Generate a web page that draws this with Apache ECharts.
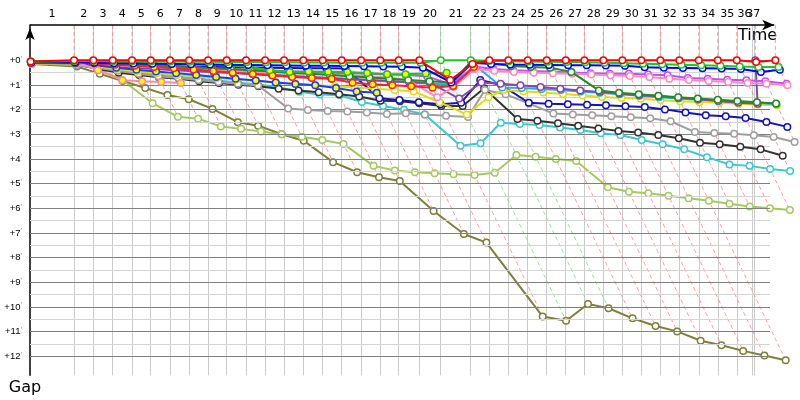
<!DOCTYPE html>
<html><head><meta charset="utf-8">
<script src="https://cdn.jsdelivr.net/npm/echarts@6/dist/echarts.min.js"></script>
<style>html,body{margin:0;padding:0;background:#fff}#c{width:800px;height:400px}</style>
</head><body><div id="c"></div>
<script>
// Leader crossing time (minutes) at end of each lap, lap 0..37
const leaderTimes = [0, 3.71, 5.33, 6.97, 8.59, 10.17, 11.79, 13.40, 15.00, 16.57, 18.20, 19.80, 21.40, 23.02, 24.66, 26.26, 27.89, 29.51, 31.06, 32.80, 34.60, 37.13, 38.69, 40.30, 41.93, 43.53, 45.13, 46.70, 48.30, 49.90, 51.50, 53.10, 54.70, 56.34, 57.94, 59.54, 61.10, 62.79];
// Vertical lap grid lines (minutes), laps 1..37
const lapLines = [3.71, 5.33, 6.97, 8.59, 10.17, 11.79, 13.40, 15.00, 16.57, 18.20, 19.80, 21.40, 23.02, 24.66, 26.26, 27.89, 29.51, 31.06, 32.80, 34.60, 37.13, 38.69, 40.30, 41.93, 43.53, 45.13, 46.70, 48.30, 49.90, 51.50, 53.10, 54.70, 56.34, 57.94, 59.54, 60.85, 61.02];
const lapLabels = ['1','2','3','4','5','6','7','8','9','10','11','12','13','14','15','16','17','18','19','20','21','22','23','24','25','26','27','28','29','30','31','32','33','34','35','36','37'];
const gapTicks = [0,1,2,3,4,5,6,7,8,9,10,11,12];
const gapLines = [0,0.5,1,1.5,2,2.5,3,3.5,4,4.5,5,5.5,6,6.5,7,7.5,8,8.5,9,9.5,10,10.5,11,11.5,12];
const greenLaps = [20, 21, 22];
const violetLaps = [36];

// Gap to leader (minutes) per car, lap 0..n
const olive = [0.15,0.25,0.55,0.84,1.12,1.41,1.58,1.97,2.51,2.65,3.0,3.26,4.13,4.54,4.74,4.89,6.11,7.04,7.39,10.39,10.56,9.88,10.05,10.46,10.77,10.99,11.37,11.55,11.78,11.97,12.16];
const lightGreen = [0.1,0.12,0.3,0.8,1.74,2.29,2.37,2.68,2.78,2.89,3.0,3.1,3.23,3.39,4.28,4.47,4.54,4.58,4.62,4.65,4.56,3.84,3.91,4.0,4.08,5.15,5.33,5.39,5.49,5.59,5.69,5.82,5.93,6.0,6.07];
const cyan = [0.1,0.2,0.3,0.42,0.5,0.58,0.66,0.74,0.82,0.9,0.98,1.08,1.28,1.39,1.42,1.69,1.85,2.0,2.2,3.46,3.36,2.53,2.58,2.62,2.72,2.83,2.96,3.03,3.23,3.4,3.61,3.93,4.22,4.28,4.41,4.49];
const black = [0.1,0.15,0.35,0.5,0.6,0.69,0.75,0.85,0.92,0.99,1.05,1.15,1.22,1.3,1.38,1.47,1.64,1.66,1.74,1.85,1.85,1.13,2.38,2.45,2.55,2.65,2.76,2.87,2.93,3.03,3.16,3.34,3.4,3.5,3.61,3.87];
const grey = [0.12,0.2,0.3,0.42,0.55,0.65,0.72,0.8,0.88,0.95,1.02,1.95,2.01,2.06,2.08,2.12,2.18,2.15,2.2,2.25,2.3,1.2,1.38,1.75,2.16,2.2,2.23,2.27,2.31,2.35,2.47,2.91,2.95,2.98,3.04,3.11,3.31];
const navy = [0.1,0.1,0.14,0.17,0.2,0.22,0.24,0.26,0.27,0.28,0.29,0.3,0.31,0.32,0.32,0.33,1.54,1.61,1.7,1.78,1.72,0.8,1.0,1.72,1.76,1.78,1.8,1.82,1.86,1.89,1.99,2.12,2.23,2.27,2.34,2.5,2.7];
const yellow = [0.15,0.15,0.25,0.35,0.45,0.52,0.6,0.66,0.72,0.78,0.84,0.9,0.95,1.0,1.05,1.1,1.15,1.2,1.26,1.7,2.2,1.5,1.2,1.26,1.31,1.37,1.43,1.49,1.53,1.56,1.62,1.66,1.69,1.72,1.76,1.8,1.82];
const sky = [0.1,0.1,0.16,0.22,0.27,0.32,0.36,0.4,0.45,0.5,0.55,0.6,0.65,0.7,0.75,0.78,0.82,0.86,0.9,0.95,0.98,0.1,1.1,1.12,1.16,1.2,1.26,1.32,1.38,1.44,1.5,1.55,1.6,1.64,1.68,1.72,1.78];
const purple = [0.12,0.12,0.18,0.24,0.3,0.35,0.4,0.44,0.48,0.52,0.56,0.6,0.64,0.68,0.72,0.76,0.8,0.84,0.88,0.92,1.55,0.9,0.95,1.01,1.08,1.15,1.22,1.28,1.35,1.42,1.45,1.52,1.58,1.65,1.72,1.76,0];
const violet = [0.1,0.08,0.12,0.16,0.2,0.23,0.26,0.29,0.32,0.35,0.38,0.41,0.44,0.47,0.5,0.52,0.55,0.58,0.6,0.65,1.0,0.25,0.35,0.4,0.43,0.46,0.49,0.52,0.55,0.55,0.58,0.61,0.72,0.75,0.79,0.81,0.85,0.95];
const pink = [0.12,0.1,0.15,0.2,0.25,0.28,0.32,0.35,0.38,0.42,0.45,0.48,0.52,0.55,0.58,0.62,0.65,0.7,0.8,1.5,1.08,0.35,0.42,0.47,0.5,0.52,0.55,0.58,0.61,0.64,0.68,0.75,0.8,0.84,0.88,0.92,0.95,1.01];
const darkGreen = [0.08,0.05,0.08,0.12,0.16,0.2,0.24,0.28,0.32,0.36,0.4,0.45,0.5,0.55,0.6,0.65,0.7,0.75,0.8,0.85,0.9,0.05,0.12,0.23,0.27,0.3,0.47,1.22,1.32,1.38,1.44,1.5,1.55,1.6,1.65,1.7,1.75];
const blueYellow = [0.1,0.12,0.2,0.3,0.38,0.45,0.52,0.6,0.68,0.75,0.82,0.9,0.96,1.01,1.12,1.26,1.32];
const redYellow = [0.1,0.1,0.14,0.18,0.22,0.27,0.32,0.37,0.43,0.5,0.56,0.62,0.68,0.72,0.75,0.91,0.97,1.01,1.05,1.11,1.04,0.27];
const pinkYellow = [0.12,0.05,0.4,0.81,0.85,0.88,0.92];
const greenYellow = [0.05,0.04,0.06,0.08,0.1,0.12,0.14,0.16,0.18,0.2,0.27,0.4,0.47,0.45,0.46,0.47,0.51,0.57,0.57,0.54,0.5];
const blue = [0.1,0.08,0.1,0.12,0.13,0.14,0.15,0.16,0.17,0.18,0.19,0.2,0.21,0.22,0.22,0.23,0.24,0.25,0.26,0.3,0.9,0.1,0.15,0.17,0.18,0.19,0.2,0.2,0.21,0.22,0.28,0.3,0.31,0.32,0.33,0.35,0.47,0.38];
const green = [0.06,0.03,0.03,0.04,0.04,0.05,0.05,0.06,0.06,0.07,0.07,0.08,0.08,0.09,0.09,0.1,0.1,0.1,0.1,0.1,0,0,0.02,0.04,0.05,0.06,0.07,0.08,0.1,0.12,0.14,0.16,0.18,0.2,0.22,0.25,0.27,0.27];
const red = [0.05,0,0,0,0,0,0,0,0,0,0,0,0,0,0,0,0,0,0,0,0.8,0.15,0,0,0,0,0,0,0,0,0,0,0,0,0,0,0.07,0];

const cars = [
  {d: olive, c: '#7f7f3c', f: '#ffffff'},
  {d: lightGreen, c: '#a6c862', f: '#ffffff'},
  {d: cyan, c: '#3cc8cc', f: '#ffffff'},
  {d: black, c: '#333333', f: '#ffffff'},
  {d: grey, c: '#9e9e9e', f: '#ffffff'},
  {d: navy, c: '#1414b4', f: '#ffffff'},
  {d: yellow, c: '#e0dc10', f: '#ffffff'},
  {d: sky, c: '#28a8f0', f: '#ffffff'},
  {d: purple, c: '#8c44a4', f: '#ffffff'},
  {d: violet, c: '#c050f0', f: '#ffffff'},
  {d: pink, c: '#ff88c4', f: '#ffffff'},
  {d: darkGreen, c: '#228c22', f: '#ffffff'},
  {d: blueYellow, c: '#1e3cf0', f: '#ffff00'},
  {d: redYellow, c: '#ff2020', f: '#ffff00'},
  {d: pinkYellow, c: '#ff88a8', f: '#ffff00'},
  {d: greenYellow, c: '#22c022', f: '#ffff00'},
  {d: blue, c: '#0000ff', f: '#ffffff'},
  {d: green, c: '#1ec81e', f: '#ffffff'},
  {d: red, c: '#ff0000', f: '#ffffff'}
];

const yMin = -1.431, yMax = 12.77;
const xMax = 64.8;          // right edge of plotting area (minutes)
const gridLineEnd = 62.34;  // horizontal grid lines end
const timeAxisEnd = 62.7;   // time axis arrow
const labelPos = lapLines.map((t, i) => ((i === 0 ? 0 : lapLines[i - 1]) + t) / 2);
const lastIdx = labelPos.length - 1;

const series = [];
// helper series: horizontal grid lines
series.push({
  type: 'line', data: [], silent: true, z: 0,
  markLine: {
    silent: true, symbol: 'none', animation: false, label: {show: false},
    data: gapLines.map((v, i) => [
      {coord: [0, v], lineStyle: {color: i % 2 ? '#d4d4d4' : '#808080', width: 1, type: 'solid'}},
      {coord: [gridLineEnd, v]}
    ])
  }
});
// dashed lap lines: vertical down to gap 0, then diagonal to slowest car of that lap
for (let n = 1; n < leaderTimes.length; n++) {
  let G = 0;
  cars.forEach(car => { if (car.d[n] != null && car.d[n] > G) G = car.d[n]; });
  const L = leaderTimes[n];
  let col = 'rgba(255,115,115,0.7)';
  if (greenLaps.includes(n)) col = 'rgba(110,215,110,0.7)';
  if (violetLaps.includes(n)) col = 'rgba(185,140,225,0.8)';
  series.push({
    type: 'line', silent: true, symbol: 'none', z: 1,
    data: [[L, yMin], [L, 0], [L + G, G]],
    lineStyle: {color: col, width: 1, type: [4, 3]}
  });
}
cars.forEach((car, k) => {
  series.push({
    type: 'line', z: 3 + k,
    data: car.d.map((g, i) => [leaderTimes[i] + g, g]),
    symbol: 'circle', symbolSize: 6.5, showAllSymbol: true,
    lineStyle: {color: car.c, width: 2},
    itemStyle: {color: car.f, borderColor: car.c, borderWidth: 1.5}
  });
});
// time axis line with arrow
series.push({
  type: 'line', data: [], silent: true, z: 30,
  markLine: {
    silent: true, animation: false, label: {show: false},
    symbol: ['none', 'arrow'], symbolSize: [8, 12],
    data: [[{coord: [0, yMin], lineStyle: {color: '#000', width: 1.5, type: 'solid'}}, {coord: [timeAxisEnd, yMin]}]]
  }
});

const lapLabelFmt = v => { const i = labelPos.findIndex(p => Math.abs(p - v) < 1e-6); return i >= 0 ? lapLabels[i] : ''; };

const chart = echarts.init(document.getElementById('c'));
chart.setOption({
  animation: false,
  backgroundColor: '#fff',
  grid: {left: 30, top: 25, width: 769.2, height: 350.3},
  xAxis: [{
    type: 'value', position: 'top', min: 0, max: xMax,
    axisLine: {show: false, onZero: false},
    axisTick: {show: false, customValues: lapLines},
    axisLabel: {
      customValues: labelPos.slice(0, lastIdx), color: '#000', fontSize: 11, fontFamily: 'DejaVu Sans', margin: 5, hideOverlap: false,
      formatter: lapLabelFmt
    },
    splitLine: {show: true, lineStyle: {color: '#cccccc', width: 1}},
    name: 'Time', nameLocation: 'end', nameGap: -22,
    nameTextStyle: {color: '#000', fontSize: 16, fontFamily: 'DejaVu Sans', align: 'right', verticalAlign: 'top', padding: [3, 0, 0, 0]}
  }, {
    type: 'value', position: 'top', min: 0, max: xMax, gridIndex: 0,
    axisLine: {show: false, onZero: false},
    axisTick: {show: false},
    splitLine: {show: false},
    axisLabel: {
      customValues: [labelPos[lastIdx]], color: '#000', fontSize: 11, fontFamily: 'DejaVu Sans', margin: 5,
      formatter: lapLabelFmt
    }
  }],
  yAxis: {
    type: 'value', inverse: true, min: yMin, max: yMax,
    axisLine: {onZero: false, lineStyle: {color: '#000', width: 1.5}, symbol: ['none', 'arrow'], symbolSize: [7, 12], symbolOffset: [0, -3]},
    axisTick: {show: false},
    axisLabel: {
      customValues: gapTicks, margin: 8, fontSize: 9.5, fontFamily: 'Liberation Sans', color: '#000',
      formatter: v => '+' + v + '{p|\'}',
      rich: {p: {fontSize: 8, color: '#d08010', padding: [0, 0, 4, 0]}}
    },
    splitLine: {show: false},
    name: 'Gap', nameLocation: 'end', nameGap: 5,
    nameTextStyle: {color: '#000', fontSize: 16, fontFamily: 'DejaVu Sans', align: 'center', verticalAlign: 'top', padding: [0, 10, 0, 0]}
  },
  series: series
});
</script></body></html>
